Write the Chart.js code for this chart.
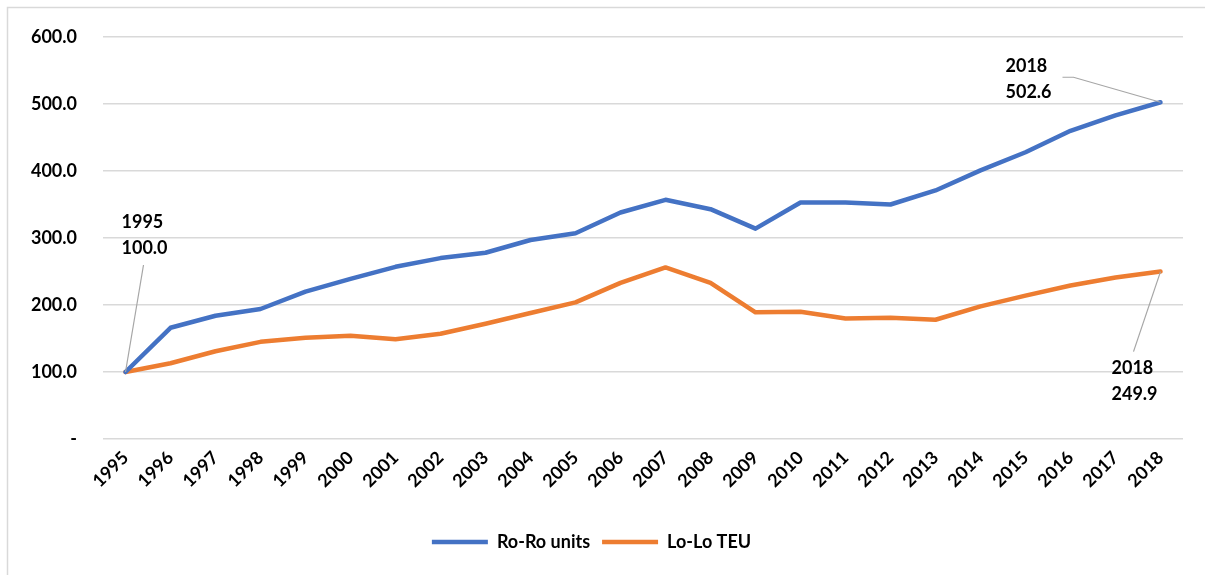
<!DOCTYPE html>
<html>
<head>
<meta charset="utf-8">
<script src="https://cdn.jsdelivr.net/npm/chart.js@4/dist/chart.umd.min.js"></script>
<style>
  html, body { margin: 0; padding: 0; background: #fff; }
  #wrap { width: 1205px; height: 575px; position: relative; }
</style>
</head>
<body>
<div id="wrap"><canvas id="myChart" width="1205" height="575"></canvas></div>
<script>
var years = ["1995","1996","1997","1998","1999","2000","2001","2002","2003","2004","2005","2006",
  "2007","2008","2009","2010","2011","2012","2013","2014","2015","2016","2017","2018"];
var roroUnits = [100.0, 166, 184, 194, 220, 239, 257, 270, 278, 297, 307, 338,
  357, 343, 314, 353, 353, 350, 371, 401, 428, 460, 483, 502.6];
var loloTeu = [100.0, 113, 131, 145, 151, 154, 149, 157, 172, 188, 204, 233,
  256, 233, 189, 190, 180, 181, 178, 198, 214, 229, 241, 249.9];
var yTicks = [0, 100, 200, 300, 400, 500, 600];

var FONT = "Lato, 'Open Sans', sans-serif";

// callout labels with a thin grey leader line
var callouts = {
  id: "callouts",
  afterDatasetsDraw: function (chart) {
    var c = chart.ctx;
    var xs = chart.scales.x, ys = chart.scales.y;
    function pt(ds, i) {
      return { x: xs.getPixelForValue(i), y: ys.getPixelForValue(chart.data.datasets[ds].data[i]) };
    }
    var last = years.length - 1;
    var items = [
      { p: pt(0, 0), ds: 0, i: 0, tx: -4, ty1: -150, ty2: -124, line: [[18, -107]] },
      { p: pt(0, last), ds: 0, i: last, tx: -155, ty1: -36, ty2: -10, line: [[-98, -25], [-87, -25]] },
      { p: pt(1, last), ds: 1, i: last, tx: -49, ty1: 97, ty2: 123, line: [[-27, 80]] }
    ];
    c.save();
    items.forEach(function (it) {
      c.strokeStyle = "#a6a6a6";
      c.lineWidth = 1.2;
      c.beginPath();
      c.moveTo(it.p.x + it.line[0][0], it.p.y + it.line[0][1]);
      for (var k = 1; k < it.line.length; k++) c.lineTo(it.p.x + it.line[k][0], it.p.y + it.line[k][1]);
      c.lineTo(it.p.x, it.p.y);
      c.stroke();
      c.fillStyle = "#000";
      c.font = "bold 18px " + FONT;
      c.textAlign = "left";
      c.textBaseline = "middle";
      var v = chart.data.datasets[it.ds].data[it.i];
      c.fillText(years[it.i], it.p.x + it.tx, it.p.y + it.ty1);
      c.fillText(v.toFixed(1), it.p.x + it.tx, it.p.y + it.ty2);
    });
    c.restore();
  }
};

// light frame around the chart (only top and left visible)
var frame = {
  id: "frame",
  beforeDraw: function (chart) {
    var c = chart.ctx;
    c.save();
    c.fillStyle = "#fff";
    c.fillRect(0, 0, chart.width, chart.height);
    c.strokeStyle = "#d9d9d9";
    c.lineWidth = 1.5;
    c.beginPath();
    c.moveTo(7.5, chart.height + 2);
    c.lineTo(7.5, 7.5);
    c.lineTo(chart.width + 2, 7.5);
    c.stroke();
    c.restore();
  }
};

var ctx = document.getElementById("myChart").getContext("2d");
var myChart = new Chart(ctx, {
  type: "line",
  data: {
    labels: years,
    datasets: [
      {
        label: "Ro-Ro units",
        data: roroUnits,
        borderColor: "#4472C4",
        backgroundColor: "#4472C4",
        borderWidth: 4.5,
        borderCapStyle: "round",
        borderJoinStyle: "round",
        pointRadius: 0,
        tension: 0,
        fill: false
      },
      {
        label: "Lo-Lo TEU",
        data: loloTeu,
        borderColor: "#ED7D31",
        backgroundColor: "#ED7D31",
        borderWidth: 4.5,
        borderCapStyle: "round",
        borderJoinStyle: "round",
        pointRadius: 0,
        tension: 0,
        fill: false
      }
    ]
  },
  options: {
    responsive: false,
    animation: false,
    layout: { padding: { left: 0, right: 22, top: 37, bottom: 14 } },
    plugins: {
      tooltip: { enabled: false },
      legend: {
        position: "bottom",
        labels: {
          usePointStyle: true,
          pointStyle: "line",
          pointStyleWidth: 56,
          boxHeight: 5,
          padding: 12,
          color: "#000",
          font: { family: FONT, size: 18, weight: "bold" }
        }
      }
    },
    scales: {
      x: {
        offset: true,
        grid: { display: false, drawTicks: false },
        border: { display: false },
        ticks: {
          color: "#000",
          autoSkip: false,
          maxRotation: 45,
          minRotation: 45,
          padding: 8,
          font: { family: FONT, size: 18, weight: "bold" }
        },
        afterFit: function (scale) { scale.height = 82; }
      },
      y: {
        min: 0,
        max: 600,
        afterBuildTicks: function (scale) {
          scale.ticks = yTicks.map(function (v) { return { value: v }; });
        },
        grid: { color: "#d9d9d9", lineWidth: 1.5, drawTicks: false },
        border: { display: false },
        ticks: {
          color: "#000",
          padding: 26,
          font: { family: FONT, size: 18, weight: "bold" },
          callback: function (v) { return v === 0 ? "-" : v.toFixed(1); }
        },
        afterFit: function (scale) { scale.width = 103; }
      }
    }
  },
  plugins: [frame, callouts]
});
</script>
</body>
</html>
